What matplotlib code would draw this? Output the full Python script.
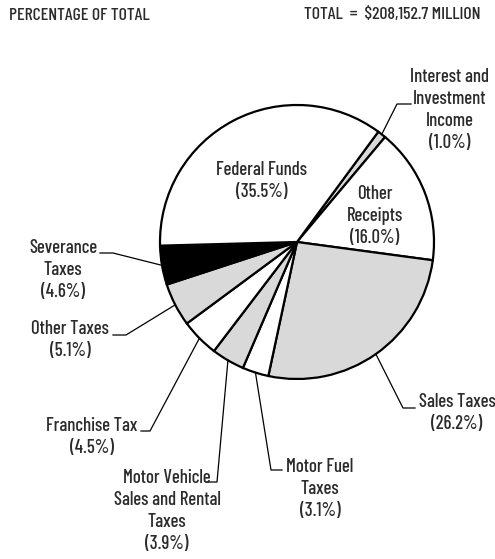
import math
import numpy as np
import matplotlib
matplotlib.use("Agg")
import matplotlib.pyplot as plt

# 数据
labels = ["Interest and\nInvestment\nIncome", "Other\nReceipts", "Sales Taxes",
          "Motor Fuel\nTaxes", "Motor Vehicle\nSales and Rental\nTaxes", "Franchise Tax",
          "Other Taxes", "Severance\nTaxes", "Federal Funds"]
shares = [1.0, 16.0, 26.2, 3.1, 3.9, 4.5, 5.1, 4.6, 35.5]
colors = ["#d9d9d9", "white", "#d9d9d9", "white", "#d9d9d9", "white", "#d9d9d9", "black", "white"]
header_left = "PERCENTAGE OF TOTAL"
header_right = "TOTAL  =  $208,152.7 MILLION"

W, H = 495, 559
FONT = ["Barlow Condensed", "DejaVu Sans"]
TXT = "#2b2b2b"

cx, cy, R = 297, 242, 137          # 饼图中心与半径 (像素, y 向下)
start = 53.6

# 标签位置 (中心) 与引线拐点, 像素坐标
label_pos = {
    0: (450, 110), 1: (375, 216), 2: (457, 413), 3: (320, 489), 4: (167, 511),
    5: (92, 437), 6: (70, 340), 7: (63, 270), 8: (262, 181),
}
leaders = {
    0: [(397, 104), (411, 104)],
    2: [(403, 408), (415, 408)],
    3: [(271, 470), (282, 470)],
    4: [(217, 482), (207, 482)],
    5: [(150, 431), (141, 431)],
    6: [(126, 335), (113, 335)],
    7: [(113, 253), (100, 253)],
}


def Y(y):
    return H - y


def main():
    fig = plt.figure(figsize=(W / 100, H / 100), dpi=100)
    ax = fig.add_axes([0, 0, 1, 1])

    wedges, _ = ax.pie(shares, colors=colors, startangle=start, counterclock=False,
                       center=(cx, Y(cy)), radius=R, frame=True,
                       wedgeprops=dict(edgecolor="black", linewidth=1.6))
    ax.set_xlim(0, W)
    ax.set_ylim(0, H)
    ax.set_aspect("equal")
    ax.axis("off")

    for i, (lab, s) in enumerate(zip(labels, shares)):
        txt = "%s\n(%.1f%%)" % (lab, s)
        x, y = label_pos[i]
        ax.text(x, Y(y), txt, ha="center", va="center", fontsize=13.5, family=FONT,
                fontweight="medium", color=TXT, linespacing=1.3)
        if i in leaders:
            w = wedges[i]
            mid = math.radians((w.theta1 + w.theta2) / 2)
            px = cx + R * math.cos(mid)
            py = Y(cy) + R * math.sin(mid)
            pts = np.array([(px, py)] + [(a, Y(b)) for a, b in leaders[i]])
            ax.plot(pts[:, 0], pts[:, 1], color="black", linewidth=0.9)

    ax.text(9, Y(15), header_left, ha="left", va="center", fontsize=12.8, family=FONT,
            fontweight="medium", color=TXT)
    ax.text(480, Y(15), header_right, ha="right", va="center", fontsize=12.8, family=FONT,
            fontweight="medium", color=TXT)

    fig.savefig("out.png", dpi=100)


if __name__ == '__main__':
    main()
